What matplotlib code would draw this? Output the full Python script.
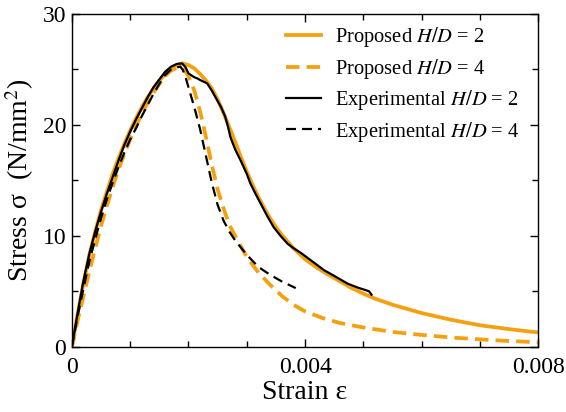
import matplotlib
matplotlib.use("Agg")
import matplotlib.pyplot as plt
from matplotlib.ticker import MultipleLocator, FuncFormatter

plt.rcParams['font.family'] = ['Liberation Serif', 'DejaVu Serif']
plt.rcParams['mathtext.fontset'] = 'stix'

ORANGE = '#f5a00f'

# Proposed H/D = 2
prop2_x = [0, 0.0001, 0.0002, 0.0003, 0.0004, 0.0005, 0.0006, 0.0007, 0.0008,
           0.0009, 0.001, 0.0011, 0.0012, 0.0013, 0.0014, 0.0015, 0.0016,
           0.0017, 0.0018, 0.0019, 0.002, 0.0021, 0.0022, 0.0023, 0.0024,
           0.0025, 0.0026, 0.0027, 0.0028, 0.0029, 0.003, 0.0031, 0.0032,
           0.0033, 0.0034, 0.0035, 0.0036, 0.0038, 0.004, 0.0042, 0.0044,
           0.0046, 0.0048, 0.005, 0.0052, 0.0055, 0.006, 0.0065, 0.007,
           0.0075, 0.008]
prop2_y = [0, 3.0, 5.8, 8.3, 10.4, 12.3, 14.0, 15.6, 17.0,
           18.3, 19.5, 20.6, 21.6, 22.5, 23.3, 24.0, 24.6,
           25.1, 25.4, 25.55, 25.4, 25.1, 24.6, 24.0, 23.3,
           22.3, 21.1, 19.8, 18.5, 17.1, 15.8, 14.6, 13.5,
           12.5, 11.6, 10.8, 10.1, 8.9, 7.9, 7.15, 6.5,
           5.9, 5.3, 4.8, 4.35, 3.8, 3.05, 2.45, 1.95,
           1.6, 1.3]

# Proposed H/D = 4
prop4_x = [0, 0.0001, 0.0002, 0.0003, 0.0004, 0.0005, 0.0006, 0.0007, 0.0008,
           0.0009, 0.001, 0.0011, 0.0012, 0.0013, 0.0014, 0.0015, 0.0016,
           0.0017, 0.0018, 0.00186, 0.0019, 0.00195, 0.002, 0.0021, 0.0022,
           0.0023, 0.0024, 0.0025, 0.0026, 0.0027, 0.0028, 0.003, 0.0032,
           0.0034, 0.0036, 0.0038, 0.004, 0.0043, 0.0046, 0.005, 0.0055,
           0.006, 0.0065, 0.007, 0.0075, 0.008]
prop4_y = [0, 2.4, 4.6, 6.8, 8.9, 10.9, 12.7, 14.4, 16.0,
           17.4, 18.7, 19.9, 21.0, 22.0, 22.9, 23.7, 24.4,
           24.9, 25.15, 25.2, 25.1, 24.8, 24.4, 23.1, 21.2,
           18.9, 16.4, 14.2, 12.5, 11.0, 10.0, 8.1, 6.7,
           5.6, 4.6, 3.8, 3.2, 2.6, 2.15, 1.75, 1.35,
           1.08, 0.85, 0.68, 0.53, 0.42]

# Experimental H/D = 2
exp2_x = [0, 0.0001, 0.0002, 0.0003, 0.0004, 0.0005, 0.0006, 0.0007, 0.0008,
          0.0009, 0.001, 0.0011, 0.0012, 0.0013, 0.0014, 0.0015, 0.0016,
          0.0017, 0.0018, 0.00189, 0.00195, 0.002, 0.0021, 0.00215, 0.0022,
          0.00232, 0.0024, 0.00249, 0.00256, 0.00263, 0.00268, 0.00272,
          0.0028, 0.00289, 0.003, 0.00306, 0.00315, 0.00324, 0.00335,
          0.00346, 0.00358, 0.0037, 0.0038, 0.00392, 0.0041, 0.00433,
          0.0045, 0.00473, 0.0049, 0.00505, 0.0051, 0.00514]
exp2_y = [0, 3.1, 6.0, 8.4, 10.4, 12.2, 13.8, 15.3, 16.8,
          18.2, 19.4, 20.5, 21.5, 22.5, 23.4, 24.1, 24.8,
          25.25, 25.5, 25.55, 25.2, 24.65, 24.3, 24.2, 24.05,
          23.75, 23.1, 22.25, 21.6, 20.75, 19.8, 18.9,
          17.8, 16.85, 15.6, 14.75, 13.8, 12.9, 11.8,
          10.8, 10.0, 9.3, 8.9, 8.5, 7.8, 6.9,
          6.4, 5.7, 5.35, 5.1, 5.0, 4.7]

# Experimental H/D = 4
exp4_x = [0, 0.0001, 0.0002, 0.0003, 0.0004, 0.0005, 0.0006, 0.0007, 0.0008,
          0.0009, 0.001, 0.0011, 0.0012, 0.0013, 0.0014, 0.0015, 0.0016,
          0.0017, 0.0018, 0.00186, 0.0019, 0.00195, 0.002, 0.0021, 0.0022,
          0.0023, 0.0024, 0.0025, 0.0026, 0.0027, 0.0028, 0.003, 0.0032,
          0.0034, 0.0036, 0.00384]
exp4_y = [0, 2.8, 5.3, 7.7, 9.7, 11.6, 13.3, 14.8, 16.2,
          17.5, 18.7, 19.7, 20.8, 21.8, 22.8, 23.7, 24.5,
          25.0, 25.2, 25.25, 25.0, 24.3, 23.4, 21.6, 19.6,
          17.2, 14.8, 12.8, 11.4, 10.4, 9.6, 8.3, 7.2,
          6.5, 5.9, 5.3]

fig = plt.figure(figsize=(5.66, 4.12), dpi=100)
ax = fig.add_axes([0.127, 0.158, 0.824, 0.808])

ax.plot(prop2_x, prop2_y, color=ORANGE, lw=2.7, label='Proposed $H/D$ = 2')
ax.plot(prop4_x, prop4_y, color=ORANGE, lw=2.7, ls=(0, (3.6, 1.9)), label='Proposed $H/D$ = 4')
ax.plot(exp2_x, exp2_y, color='black', lw=1.6, label='Experimental $H/D$ = 2')
ax.plot(exp4_x, exp4_y, color='black', lw=1.6, ls=(0, (4.5, 2.7)), label='Experimental $H/D$ = 4')

ax.set_xlim(0, 0.008)
ax.set_ylim(0, 30)
ax.xaxis.set_major_locator(MultipleLocator(0.004))
ax.xaxis.set_minor_locator(MultipleLocator(0.001))
ax.yaxis.set_major_locator(MultipleLocator(10))
ax.yaxis.set_minor_locator(MultipleLocator(5))
ax.xaxis.set_major_formatter(FuncFormatter(lambda v, p: '0' if v == 0 else f'{v:g}'))
ax.tick_params(which='both', direction='in', top=True, right=True, labelsize=17, width=1)
ax.tick_params(which='major', length=6)
ax.tick_params(which='minor', length=4)
ax.tick_params(axis='x', pad=7)
ax.tick_params(axis='y', pad=4)
for s in ax.spines.values():
    s.set_linewidth(1)

ax.set_xlabel('Strain ε', fontsize=20, labelpad=2)
ax.set_ylabel('Stress σ  (N/mm$^2$)', fontsize=20, labelpad=5)

ax.legend(loc='upper right', frameon=False, fontsize=14.8, handlelength=1.7,
          handletextpad=0.7, labelspacing=0.36, borderaxespad=0.15,
          bbox_to_anchor=(0.985, 1.0))

fig.savefig('out.png', dpi=100)
